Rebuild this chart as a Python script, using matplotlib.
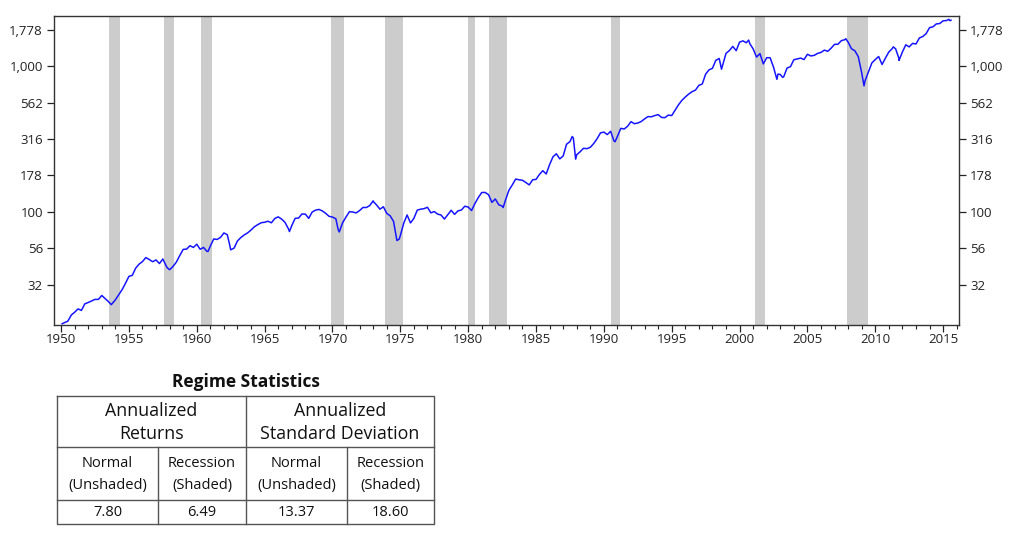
import numpy as np
import matplotlib
matplotlib.use('Agg')
import matplotlib.pyplot as plt
from matplotlib.ticker import FixedLocator, FuncFormatter, MultipleLocator, NullLocator

plt.rcParams['font.family'] = ['Open Sans', 'DejaVu Sans']

# ------------------------------------------------------------------------------
# data (index level, log scale), quarter-end values
first_year = 1950
q_vals = [
    17.3, 17.7, 19.5, 20.4,   # 1950
    21.5, 21.0, 23.3, 23.8,   # 1951
    24.4, 25.0, 25.0, 26.6,   # 1952
    25.3, 24.1, 23.3, 24.8,   # 1953
    26.9, 29.2, 32.3, 36.0,   # 1954
    36.6, 41.0, 43.7, 45.5,   # 1955
    48.5, 47.0, 45.4, 46.7,   # 1956
    44.1, 47.4, 42.4, 40.0,   # 1957
    42.1, 45.2, 50.1, 55.2,   # 1958
    55.4, 58.5, 56.9, 59.9,   # 1959
    55.3, 56.9, 53.5, 58.1,   # 1960
    65.1, 64.6, 66.7, 71.6,   # 1961
    69.6, 54.8, 56.3, 63.1,   # 1962
    66.6, 69.4, 71.7, 75.0,   # 1963
    79.0, 81.7, 84.2, 84.8,   # 1964
    86.2, 84.1, 90.0, 92.4,   # 1965
    89.2, 84.7, 76.6, 80.3,   # 1966
    90.2, 90.6, 96.7, 96.5,   # 1967
    90.2, 99.6, 102.7, 103.9,  # 1968
    101.5, 97.7, 93.1, 92.1,  # 1969
    89.6, 72.7, 84.2, 92.2,   # 1970
    100.3, 99.7, 98.3, 102.1,  # 1971
    107.2, 107.1, 110.6, 118.1,  # 1972
    111.5, 104.3, 108.4, 97.6,  # 1973
    94.0, 86.0, 63.5, 68.6,   # 1974
    83.4, 95.2, 83.9, 90.2,   # 1975
    102.8, 104.3, 105.2, 107.5,  # 1976
    98.4, 100.5, 96.5, 95.1,  # 1977
    89.2, 95.5, 102.5, 96.1,  # 1978
    101.6, 102.9, 109.3, 107.9,  # 1979
    102.1, 114.2, 125.5, 135.8,  # 1980
    136.0, 131.2, 116.2, 122.6,  # 1981
    112.0, 109.6, 120.4, 140.6,  # 1982
    153.0, 168.1, 166.1, 164.9,  # 1983
    159.2, 153.2, 166.1, 167.2,  # 1984
    180.7, 191.9, 182.1, 211.3,  # 1985
    238.9, 250.8, 231.3, 242.2,  # 1986
    291.7, 304.0, 321.8, 247.1,  # 1987
    258.9, 273.5, 271.9, 277.7,  # 1988
    294.9, 318.0, 349.2, 353.4,  # 1989
    339.9, 358.0, 306.1, 330.2,  # 1990
    375.2, 371.2, 387.9, 417.1,  # 1991
    403.7, 408.1, 417.8, 435.7,  # 1992
    451.7, 450.5, 458.9, 466.5,  # 1993
    445.8, 444.3, 462.7, 459.3,  # 1994
    500.7, 544.8, 584.4, 615.9,  # 1995
    645.5, 670.6, 687.3, 740.7,  # 1996
    757.1, 885.1, 947.3, 970.4,  # 1997
    1101.8, 1133.8, 1017.0, 1229.2,  # 1998
    1286.4, 1372.7, 1282.7, 1469.3,  # 1999
    1498.6, 1454.6, 1436.5, 1320.3,  # 2000
    1160.3, 1224.4, 1040.9, 1148.1,  # 2001
    1147.4, 989.8, 815.3, 879.8,  # 2002
    848.2, 974.5, 996.0, 1111.9,  # 2003
    1126.2, 1140.8, 1114.6, 1211.9,  # 2004
    1180.6, 1191.3, 1228.8, 1248.3,  # 2005
    1294.8, 1270.2, 1335.9, 1418.3,  # 2006
    1420.9, 1503.4, 1526.8, 1468.4,  # 2007
    1322.7, 1280.0, 1166.4, 903.3,  # 2008
    797.9, 919.3, 1057.1, 1115.1,  # 2009
    1169.4, 1030.7, 1141.2, 1257.6,  # 2010
    1325.8, 1320.6, 1131.4, 1257.6,  # 2011
    1408.5, 1362.2, 1440.7, 1426.2,  # 2012
    1569.2, 1606.3, 1681.6, 1848.4,  # 2013
    1872.3, 1960.2, 1972.3, 2058.9,  # 2014
    2067.9, 2063.1,                  # 2015
]

# monthly highs / lows between quarter ends
extra_dates = [1950.08, 1953.70, 1957.83, 1960.83, 1962.42, 1966.83, 1970.42,
               1973.00, 1974.92, 1982.58, 1987.67, 1987.92, 1990.83, 1998.67,
               2000.67, 2002.83, 2003.17, 2007.83, 2009.17, 2011.33, 2011.75,
               2015.42, 2015.58]
extra_vals = [17.0, 23.0, 41.2, 53.4, 59.6, 73.2, 75.6,
              119.0, 65.0, 107.1, 329.8, 230.3, 304.0, 957.3,
              1517.7, 885.8, 841.2, 1549.4, 735.1, 1363.6, 1099.2,
              2107.4, 2080.0]

# NBER recessions (start, end) in fractional years
rec_start = [1953.55, 1957.62, 1960.30, 1969.92, 1973.87, 1980.00, 1981.50,
             1990.50, 2001.17, 2007.92]
rec_end = [1954.37, 1958.30, 1961.12, 1970.87, 1975.20, 1980.50, 1982.87,
           1991.17, 2001.87, 2009.45]

# table
table_title = 'Regime Statistics'
group_headers = ['Annualized\nReturns', 'Annualized\nStandard Deviation']
sub_headers = ['Normal\n(Unshaded)', 'Recession\n(Shaded)',
               'Normal\n(Unshaded)', 'Recession\n(Shaded)']
stat_values = [7.80, 6.49, 13.37, 18.60]

# ------------------------------------------------------------------------------
q_dates = [first_year + (i + 1) * 0.25 for i in range(len(q_vals))]
dates = np.array(q_dates + extra_dates)
vals = np.array(q_vals + extra_vals)
order = np.argsort(dates)
dates, vals = dates[order], vals[order]

W, H = 1024, 543
fig = plt.figure(figsize=(W / 100, H / 100), dpi=100)
ax = fig.add_axes([54 / W, 1 - 324.5 / H, (959 - 54) / W, (324.5 - 16) / H])

for s, e in zip(rec_start, rec_end):
    ax.axvspan(s, e, color='#cccccc', lw=0, zorder=0)
ax.plot(dates, vals, color='#1515ff', lw=1.1, zorder=2)

ax.set_yscale('log')
ax.set_ylim(16.8, 2222)
ax.set_xlim(1949.48, 2016.17)

yt = [10 ** (k / 4) for k in range(6, 14)]
ax.yaxis.set_major_locator(FixedLocator(yt))
ax.yaxis.set_minor_locator(NullLocator())
ax.yaxis.set_major_formatter(FuncFormatter(lambda v, p: f'{v:,.0f}'))
ax.xaxis.set_major_locator(MultipleLocator(5))
ax.xaxis.set_minor_locator(MultipleLocator(1))
ax.xaxis.set_major_formatter(FuncFormatter(lambda v, p: f'{v:.0f}'))

ax.tick_params(axis='y', which='both', direction='out', length=5, width=0.9,
               left=True, right=True, labelleft=True, labelright=True,
               labelsize=9.5, pad=3, colors='#222222')
ax.tick_params(axis='x', which='major', direction='out', length=5, width=0.9,
               labelsize=9.5, pad=1, colors='#222222')
ax.tick_params(axis='x', which='minor', direction='out', length=3, width=0.8,
               colors='#222222')
for sp in ax.spines.values():
    sp.set_color('#333333')
    sp.set_linewidth(1.0)

# table drawn in pixel coordinates
tx = fig.add_axes([0, 0, 1, 1], facecolor='none')
tx.set_xlim(0, W)
tx.set_ylim(H, 0)
tx.axis('off')

x0, x1, x2, x3, x4 = 57, 158, 246, 347, 434
y0, y1, y2, y3 = 396, 447, 500, 524
lc = '#555555'
lw = 1.0
tx.plot([x0, x4, x4, x0, x0], [y0, y0, y3, y3, y0], color=lc, lw=lw)
tx.plot([x0, x4], [y1, y1], color=lc, lw=lw)
tx.plot([x0, x4], [y2, y2], color=lc, lw=lw)
tx.plot([x2, x2], [y0, y3], color=lc, lw=lw)
tx.plot([x1, x1], [y1, y3], color=lc, lw=lw)
tx.plot([x3, x3], [y1, y3], color=lc, lw=lw)

tx.text((x0 + x4) / 2, 382, table_title, ha='center', va='center',
        fontsize=12.5, fontweight='bold', color='#111111')
for i, txt in enumerate(group_headers):
    cx = [(x0 + x2) / 2, (x2 + x4) / 2][i]
    tx.text(cx, (y0 + y1) / 2 + 1, txt, ha='center', va='center', fontsize=12.8,
            linespacing=1.4, color='#111111')
cols = [x0, x1, x2, x3, x4]
for i in range(4):
    cx = (cols[i] + cols[i + 1]) / 2
    tx.text(cx, (y1 + y2) / 2 + 1, sub_headers[i], ha='center', va='center',
            fontsize=10.5, linespacing=1.55, color='#111111')
    tx.text(cx, (y2 + y3) / 2, f'{stat_values[i]:.2f}', ha='center',
            va='center', fontsize=10.5, color='#111111')

fig.savefig('out.png', dpi=100)
